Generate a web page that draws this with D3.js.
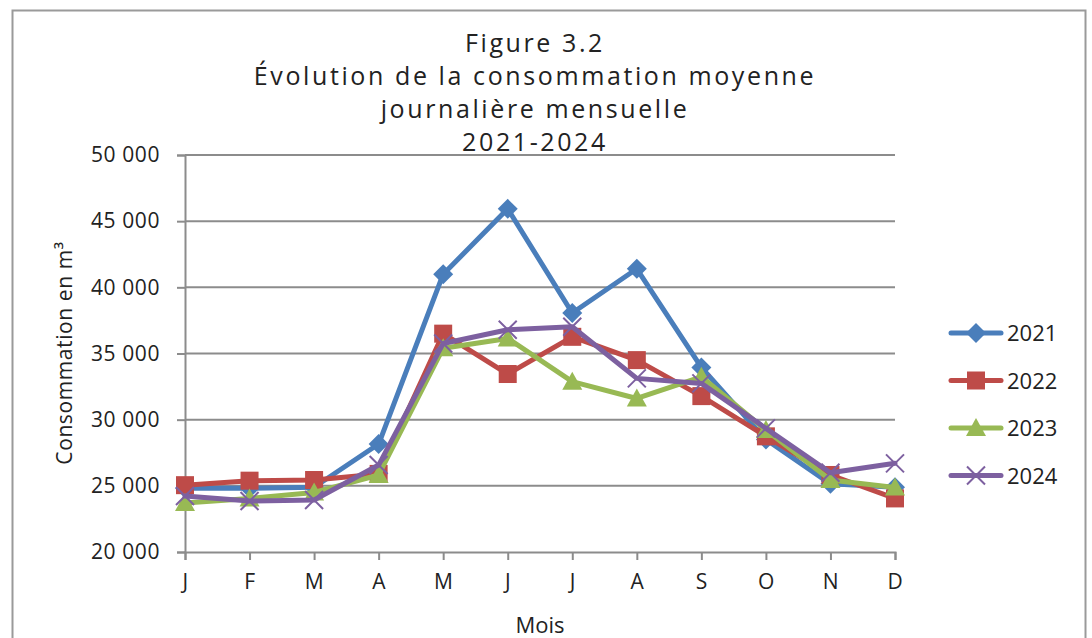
<!DOCTYPE html>
<html>
<head>
<meta charset="utf-8">
<script src="https://cdn.jsdelivr.net/npm/d3@7"></script>
<style>
  body { margin: 0; background: #fff; }
  text { font-family: "Open Sans", sans-serif; fill: #222; }
</style>
</head>
<body>
<div id="chart"></div>
<script>
// data
const MONTHS = ['J', 'F', 'M', 'A', 'M', 'J', 'J', 'A', 'S', 'O', 'N', 'D'];
const YEARS = ['2021', '2022', '2023', '2024'];
const VALUES_2021 = [24810, 24810, 24890, 28160, 40990, 45930, 38060, 41400, 33950, 28500, 25150, 24900];
const VALUES_2022 = [25050, 25390, 25440, 25900, 36500, 33450, 36260, 34500, 31780, 28740, 25820, 24050];
const VALUES_2023 = [23700, 24050, 24500, 25820, 35400, 36140, 32870, 31600, 33240, 29210, 25440, 24880];
const VALUES_2024 = [24230, 23850, 23930, 26570, 35760, 36800, 37020, 33120, 32740, 29340, 25990, 26700];
const Y_TICKS = [20000, 25000, 30000, 35000, 40000, 45000, 50000];
const TITLE_LINES = ['Figure 3.2', 'Évolution de la consommation moyenne', 'journalière mensuelle', '2021-2024'];

const CONSTANTS = {
    WIDTH: 1092,
    HEIGHT: 638,
    LEFT: 185,     // x of the y axis
    RIGHT: 895,    // x of the last category
    TOP: 155,      // y of the 50 000 gridline
    BOTTOM: 552,   // y of the x axis
    GRID: '#8c8c8c'
};

const COLORS = ['#4a7ebb', '#be4b48', '#98b954', '#7d60a0'];
const SYMBOLS = ['diamond', 'square', 'triangle', 'cross'];

const svg = d3.select('#chart')
    .append('svg')
    .attr('width', CONSTANTS.WIDTH)
    .attr('height', CONSTANTS.HEIGHT);

// outer frame
svg.append('rect')
    .attr('x', 12.5).attr('y', 10.5)
    .attr('width', 1073).attr('height', 640)
    .attr('fill', 'none')
    .attr('stroke', '#9a9a9a')
    .attr('stroke-width', 2);

// scales
const x = d3.scalePoint()
    .domain(d3.range(MONTHS.length))
    .range([CONSTANTS.LEFT, CONSTANTS.RIGHT]);

const y = d3.scaleLinear()
    .domain([20000, 50000])
    .range([CONSTANTS.BOTTOM, CONSTANTS.TOP]);

// gridlines
svg.append('g')
    .selectAll('line')
    .data(Y_TICKS.slice(1))
    .enter()
    .append('line')
    .attr('x1', CONSTANTS.LEFT).attr('x2', CONSTANTS.RIGHT)
    .attr('y1', d => y(d)).attr('y2', d => y(d))
    .attr('stroke', CONSTANTS.GRID)
    .attr('stroke-width', 2);

// y axis
const yAxis = svg.append('g')
    .attr('transform', 'translate(' + CONSTANTS.LEFT + ',0)')
    .call(d3.axisLeft(y).tickValues(Y_TICKS).tickSize(8).tickPadding(17).tickFormat(d => d3.format(',')(d).replace(',', ' ')));

// x axis
const xAxis = svg.append('g')
    .attr('transform', 'translate(0,' + CONSTANTS.BOTTOM + ')')
    .call(d3.axisBottom(x).tickSize(8).tickPadding(14).tickFormat(i => MONTHS[i]));

[yAxis, xAxis].forEach(a => {
    a.select('.domain').attr('stroke', CONSTANTS.GRID).attr('stroke-width', 2);
    a.selectAll('.tick line').attr('stroke', CONSTANTS.GRID).attr('stroke-width', 2);
    a.selectAll('.tick text')
        .style('font-family', '"Open Sans", sans-serif')
        .style('font-size', '21px')
        .style('letter-spacing', '0.6px')
        .attr('fill', '#222');
});
xAxis.selectAll('.tick text').style('font-size', '21px');

// axis titles
svg.append('text')
    .attr('x', 540).attr('y', 633)
    .attr('text-anchor', 'middle')
    .style('font-size', '22px')
    .text('Mois');

svg.append('text')
    .attr('transform', 'translate(72,353) rotate(-90)')
    .attr('text-anchor', 'middle')
    .style('font-size', '21px')
    .style('letter-spacing', '0.6px')
    .text('Consommation en m³');

// title
svg.append('g')
    .selectAll('text')
    .data(TITLE_LINES)
    .enter()
    .append('text')
    .attr('x', 535)
    .attr('y', (d, i) => 52 + i * 33)
    .attr('text-anchor', 'middle')
    .style('font-size', '25px')
    .style('letter-spacing', '2.6px')
    .text(d => d);

// series
const series = [VALUES_2021, VALUES_2022, VALUES_2023, VALUES_2024];
const line = d3.line()
    .x((d, i) => x(i))
    .y(d => y(d));

function drawMarker(g, type, color, cx, cy) {
    if (type === 'diamond') {
        g.append('path')
            .attr('d', 'M0,-10L10,0L0,10L-10,0Z')
            .attr('transform', 'translate(' + cx + ',' + cy + ')')
            .attr('fill', color);
    } else if (type === 'square') {
        g.append('rect')
            .attr('x', cx - 9).attr('y', cy - 9)
            .attr('width', 18).attr('height', 18)
            .attr('fill', color);
    } else if (type === 'triangle') {
        g.append('path')
            .attr('d', 'M0,-10L10,8L-10,8Z')
            .attr('transform', 'translate(' + cx + ',' + cy + ')')
            .attr('fill', color);
    } else {
        g.append('path')
            .attr('d', 'M-9,-9L9,9M-9,9L9,-9')
            .attr('transform', 'translate(' + cx + ',' + cy + ')')
            .attr('stroke', color)
            .attr('stroke-width', 2);
    }
}

series.forEach((vals, s) => {
    const g = svg.append('g');
    g.append('path')
        .datum(vals)
        .attr('d', line)
        .attr('fill', 'none')
        .attr('stroke', COLORS[s])
        .attr('stroke-width', 5)
        .attr('stroke-linejoin', 'round')
        .attr('stroke-linecap', 'round');
    vals.forEach((v, i) => drawMarker(g, SYMBOLS[s], COLORS[s], x(i), y(v)));
});

// legend
const legend = svg.append('g');
YEARS.forEach((yr, s) => {
    const ly = 333 + s * 47.5;
    legend.append('line')
        .attr('x1', 951).attr('x2', 1001)
        .attr('y1', ly).attr('y2', ly)
        .attr('stroke', COLORS[s])
        .attr('stroke-width', 5)
        .attr('stroke-linecap', 'round');
    drawMarker(legend, SYMBOLS[s], COLORS[s], 976, ly);
    legend.append('text')
        .attr('x', 1007).attr('y', ly + 8)
        .style('font-size', '22px')
        .text(yr);
});
</script>
</body>
</html>
